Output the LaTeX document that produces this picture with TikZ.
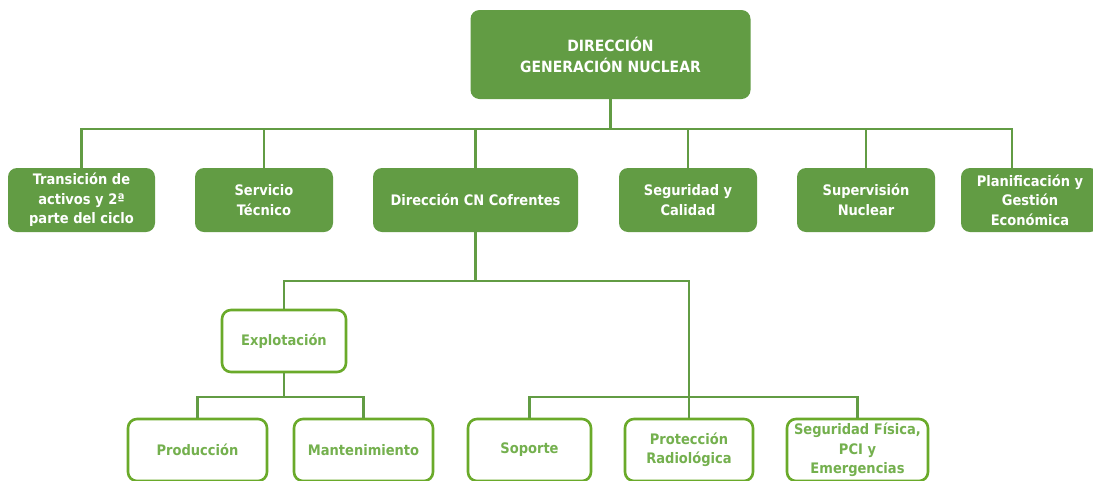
\documentclass[tikz,border=0pt]{standalone}
\usepackage{fontspec}
\setmainfont{DejaVu Sans Condensed}
\definecolor{gfill}{HTML}{629C44}
\definecolor{gline}{HTML}{6AAA2A}
\definecolor{gtext}{HTML}{74B04E}
\begin{document}
\begin{tikzpicture}[x=1pt,y=-1pt,
    full/.style={rectangle,rounded corners=9pt,fill=gfill,text=white,align=center,
      font=\bfseries\fontsize{14.5}{19.5}\selectfont,inner sep=0pt,minimum height=64pt},
    hollow/.style={rectangle,rounded corners=9pt,draw=gline,line width=2.6pt,fill=white,
      text=gtext,align=center,font=\bfseries\fontsize{14.5}{19.5}\selectfont,inner sep=0pt,minimum height=62pt},
    link/.style={draw=gfill,line width=2.8pt}]
    \useasboundingbox[fill=white] (0,0) rectangle (1093,480);
    \begin{scope}
    \clip (0,0) rectangle (1093,480);
    \coordinate (bus1) at (0,129);
    \coordinate (bus2) at (0,281);
    \coordinate (bus3) at (0,397);
    \coordinate (planin) at (1012,168);
    \node[full,minimum width=280pt,minimum height=89pt,font=\bfseries\fontsize{15.5}{21}\selectfont] (top) at (610.5,54.5) {DIRECCIÓN\\GENERACIÓN NUCLEAR};
    \node[full,minimum width=147pt] (trans) at (81.5,200) {Transición de\\activos y 2ª\\parte del ciclo};
    \node[full,minimum width=138pt] (serv) at (264,200) {Servicio\\Técnico};
    \node[full,minimum width=205pt] (dircn) at (475.5,200) {Dirección CN Cofrentes};
    \node[full,minimum width=138pt] (segcal) at (688,200) {Seguridad y\\Calidad};
    \node[full,minimum width=138pt] (supnuc) at (866,200) {Supervisión\\Nuclear};
    \node[full,minimum width=138pt] (plan) at (1030,200) {Planificación y\\Gestión\\Económica};
    \node[hollow,minimum width=124pt] (explot) at (284,341) {Explotación};
    \node[hollow,minimum width=139pt] (prod) at (197.5,450) {Producción};
    \node[hollow,minimum width=139pt] (mant) at (363.5,450) {Mantenimiento};
    \node[hollow,minimum width=123pt] (sop) at (529.5,450) {Soporte};
    \node[hollow,minimum width=128pt] (prot) at (689,450) {Protección\\Radiológica};
    \node[hollow,minimum width=141pt] (segfis) at (857.5,450) {Seguridad Física,\\PCI y\\Emergencias};
    \path[link] (top.south) -- (top.south |- bus1);
    \path[link] (trans.north) |- (planin |- bus1) -- (planin);
    \foreach \n in {serv,dircn,segcal,supnuc}
      \path[link] (\n.north) -- (\n.north |- bus1);
    \path[link] (dircn.south) -- (dircn.south |- bus2);
    \path[link] (explot.north) |- (prot.north |- bus2) -- (prot.north);
    \path[link] (explot.south) -- (explot.south |- bus3);
    \path[link] (prod.north) |- (mant.north |- bus3) -- (mant.north);
    \path[link] (sop.north) |- (segfis.north |- bus3) -- (segfis.north);
    \end{scope}
\end{tikzpicture}
\end{document}
